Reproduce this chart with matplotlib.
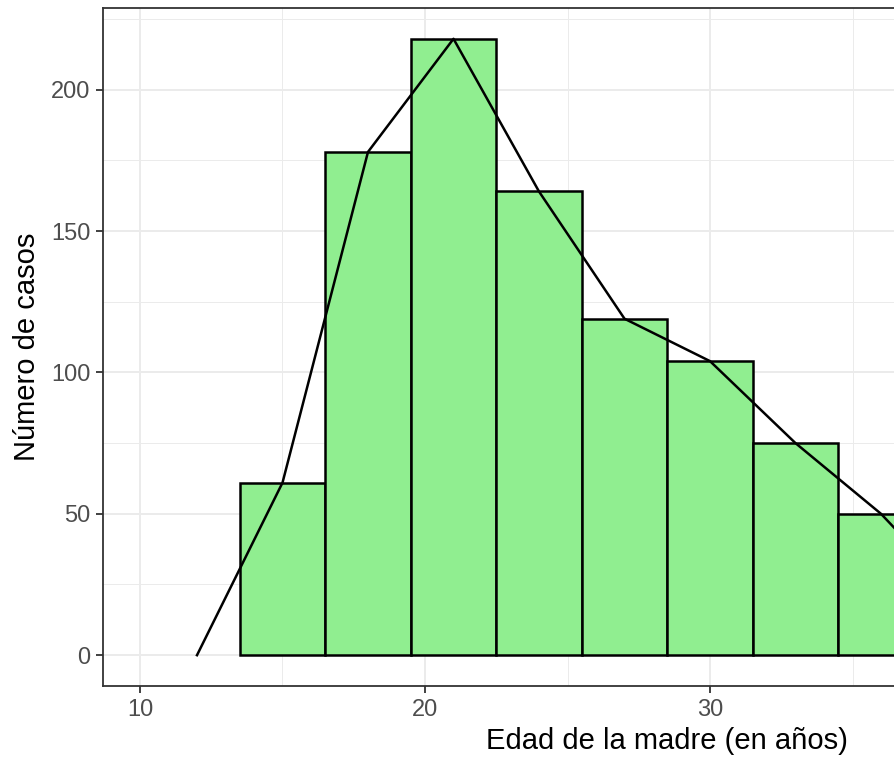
import matplotlib
matplotlib.use("Agg")
import matplotlib.pyplot as plt
from matplotlib.ticker import MultipleLocator

plt.rcParams['font.family'] = ['Liberation Sans', 'DejaVu Sans']

# Histogram bins (centers, width 3) and counts
bin_centers = [15, 18, 21, 24, 27, 30, 33, 36]
counts = [61, 178, 218, 164, 119, 104, 75, 50]
bin_width = 3

# Frequency polygon points
poly_x = [12, 15, 18, 21, 24, 27, 30, 33, 36, 39]
poly_y = [0, 61, 178, 218, 164, 119, 104, 75, 50, 18]

x_ticks = [10, 20, 30]
y_ticks = [0, 50, 100, 150, 200]

W, H = 895, 761
fig = plt.figure(figsize=(W / 100, H / 100), dpi=100)
left, right, top, bottom = 103, 1231, 8, 686
ax = fig.add_axes([left / W, (H - bottom) / H, (right - left) / W, (bottom - top) / H])

ax.bar(bin_centers, counts, width=bin_width, color='#90EE90', edgecolor='black',
       linewidth=1.8, zorder=3)
ax.plot(poly_x, poly_y, color='black', linewidth=1.8, zorder=4)

ax.set_xlim(8.702, 48.28)
ax.set_ylim(-10.9, 228.9)
ax.set_xticks(x_ticks)
ax.set_yticks(y_ticks)
ax.xaxis.set_minor_locator(MultipleLocator(5))
ax.yaxis.set_minor_locator(MultipleLocator(25))
ax.grid(which='major', color='#EBEBEB', linewidth=1.4, zorder=0)
ax.grid(which='minor', color='#EBEBEB', linewidth=0.7, zorder=0)
ax.set_axisbelow(True)

for s in ax.spines.values():
    s.set_color('#333333')
    s.set_linewidth(1.3)

ax.tick_params(which='major', length=5, width=1.3, color='#333333',
               labelsize=17, labelcolor='#4D4D4D', pad=4)
ax.tick_params(which='minor', length=0)

ax.set_xlabel('Edad de la madre (en años)', fontsize=21, color='black', labelpad=5)
ax.set_ylabel('Número de casos', fontsize=21, color='black', labelpad=7)

fig.savefig('out.png', dpi=100)
